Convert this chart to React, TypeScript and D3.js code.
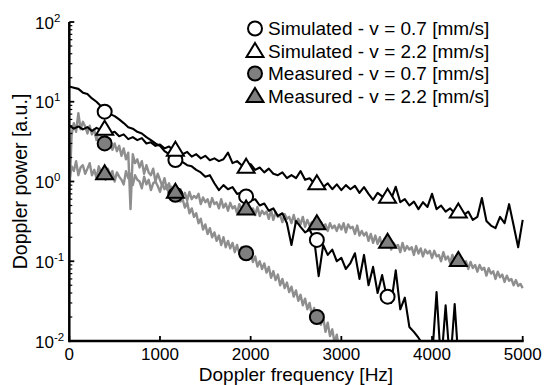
import React from "react";
import * as d3 from "d3";

// ---- data ----
const SIM_STEP = 50; // Hz between simulated samples
const MEAS_STEP = 25; // Hz between measured samples

const simV07 = [
  15.5, 15.0, 14.5, 13.0, 12.5, 11.0, 10.0, 8.8, 7.4, 7.0,
  6.6, 6.0, 5.4, 4.8, 4.6, 4.2, 4.0, 3.6, 3.3, 3.0,
  2.8, 2.4, 2.2, 1.95, 1.8, 1.75, 1.6, 1.55, 1.4, 1.3,
  1.15, 1.2, 0.95, 0.78, 0.9, 0.8, 0.85, 0.7, 0.72, 0.62,
  0.58, 0.6, 0.5, 0.53, 0.43, 0.46, 0.37, 0.4, 0.3, 0.16,
  0.32, 0.27, 0.23, 0.25, 0.19, 0.065, 0.16, 0.12, 0.14, 0.1,
  0.11, 0.08, 0.095, 0.126, 0.06, 0.12, 0.05, 0.085, 0.04, 0.067,
  0.036, 0.03, 0.077, 0.025, 0.035, 0.015, 0.013, 0.011, 0.009, 0.007,
  0.006, 0.041, 0.005, 0.028, 0.005, 0.029, 0.004, 0.004, 0.003, 0.003,
  0.003, 0.003, 0.003, 0.003, 0.003, 0.003, 0.003, 0.003, 0.003, 0.003,
  0.003,
];

const simV22 = [
  5.0, 4.6, 4.9, 4.5, 4.8, 4.3, 4.7, 4.4, 4.5, 4.0,
  4.2, 3.7, 3.9, 3.4, 3.6, 3.3, 3.5, 3.0, 3.1, 2.8,
  2.9, 2.6, 2.75, 2.45, 2.5, 2.2, 2.35, 2.05, 2.2, 1.95,
  2.1, 1.85, 1.95, 1.8, 1.9, 2.3, 1.7, 1.8, 1.6, 1.55,
  1.65, 1.4, 1.5, 1.3, 1.45, 1.25, 1.2, 1.3, 1.1, 1.2,
  1.1, 1.35, 1.05, 1.1, 0.95, 0.98, 0.85, 0.95, 0.8, 0.92,
  0.78, 0.9, 0.8, 0.88, 0.72, 0.85, 0.7, 0.59, 0.72, 0.65,
  0.66, 0.6, 0.86, 0.55, 0.6, 0.5, 0.56, 0.45, 0.55, 0.48,
  0.7, 0.45, 0.5, 0.42, 0.46, 0.4, 0.43, 0.38, 0.42, 0.33,
  0.36, 0.62, 0.32, 0.28, 0.26, 0.36, 0.3, 0.52, 0.28, 0.15,
  0.33,
];

const measV07 = [
  0.6, 3.8, 5.4, 4.2, 7.2, 4.5, 5.6, 4.9, 4.0, 5.0,
  3.9, 4.5, 3.3, 4.2, 3.6, 3.2, 3.9, 2.8, 3.4, 2.5,
  3.0, 2.4, 2.8, 2.1, 2.6, 1.9, 2.3, 0.45, 2.2, 1.7,
  1.9, 1.5, 1.8, 1.25, 1.6, 1.3, 1.2, 1.45, 1.0, 1.25,
  1.05, 0.88, 1.1, 0.8, 0.95, 0.72, 0.8, 0.6, 0.72, 0.56,
  0.6, 0.47, 0.55, 0.4, 0.46, 0.36, 0.4, 0.3, 0.34, 0.25,
  0.29, 0.22, 0.26, 0.2, 0.23, 0.18, 0.21, 0.16, 0.2, 0.15,
  0.18, 0.145, 0.17, 0.13, 0.16, 0.125, 0.15, 0.12, 0.135, 0.105,
  0.125, 0.098, 0.115, 0.086, 0.1, 0.08, 0.094, 0.072, 0.085, 0.062,
  0.075, 0.058, 0.068, 0.05, 0.06, 0.046, 0.054, 0.041, 0.048, 0.036,
  0.043, 0.032, 0.038, 0.028, 0.034, 0.025, 0.03, 0.021, 0.026, 0.018,
  0.022, 0.016, 0.02, 0.013, 0.017, 0.0115, 0.014, 0.0095, 0.012, 0.008,
  0.0095, 0.007, 0.0075,
];

const measV22 = [
  1.0, 1.55, 1.35, 1.8, 1.2, 1.5, 1.6, 1.25, 1.45, 1.7,
  1.2, 1.4, 1.1, 1.55, 1.3, 1.25, 1.05, 1.45, 1.2, 1.35,
  1.0, 1.3, 1.15, 1.05, 0.92, 1.35, 1.1, 1.25, 0.9, 1.2,
  1.05, 1.0, 0.82, 1.15, 0.92, 1.05, 0.78, 0.95, 1.0, 0.88,
  0.74, 0.95, 0.8, 0.9, 0.68, 0.86, 0.76, 0.7, 0.64, 0.8,
  0.66, 0.72, 0.58, 0.74, 0.6, 0.66, 0.62, 0.7, 0.52, 0.63,
  0.55, 0.6, 0.48, 0.62, 0.52, 0.55, 0.46, 0.6, 0.47, 0.53,
  0.43, 0.54, 0.46, 0.49, 0.4, 0.52, 0.44, 0.47, 0.43, 0.52,
  0.4, 0.46, 0.38, 0.48, 0.37, 0.43, 0.39, 0.42, 0.34, 0.44,
  0.33, 0.41, 0.36, 0.38, 0.31, 0.39, 0.34, 0.36, 0.3, 0.38,
  0.3, 0.34, 0.29, 0.36, 0.27, 0.33, 0.28, 0.31, 0.29, 0.32,
  0.25, 0.31, 0.27, 0.29, 0.24, 0.3, 0.26, 0.28, 0.24, 0.29,
  0.25, 0.3, 0.23, 0.29, 0.26, 0.27, 0.22, 0.28, 0.21, 0.24,
  0.21, 0.23, 0.18, 0.22, 0.17, 0.21, 0.165, 0.2, 0.15, 0.19,
  0.16, 0.18, 0.14, 0.17, 0.155, 0.16, 0.13, 0.17, 0.135, 0.155,
  0.14, 0.15, 0.12, 0.155, 0.125, 0.145, 0.115, 0.14, 0.125, 0.135,
  0.11, 0.135, 0.115, 0.12, 0.1, 0.13, 0.105, 0.115, 0.095, 0.12,
  0.1, 0.11, 0.088, 0.105, 0.09, 0.1, 0.08, 0.098, 0.082, 0.09,
  0.074, 0.09, 0.078, 0.083, 0.066, 0.082, 0.07, 0.075, 0.06, 0.074,
  0.063, 0.068, 0.055, 0.066, 0.057, 0.06, 0.05, 0.058, 0.049, 0.052,
  0.046,
];

const markerFreqs = [390, 1170, 1950, 2730, 3510, 4290];
const simV07Markers = [7.5, 1.86, 0.65, 0.185, 0.036, null];
const simV22Markers = [4.6, 2.5, 1.53, 0.95, 0.645, 0.42];
const measV07Markers = [3.0, 0.68, 0.126, 0.02, null, null];
const measV22Markers = [1.27, 0.745, 0.46, 0.3, 0.176, 0.104];

const legendLabels = [
  "Simulated - v = 0.7 [mm/s]",
  "Simulated - v = 2.2 [mm/s]",
  "Measured - v = 0.7 [mm/s]",
  "Measured - v = 2.2 [mm/s]",
];

const xTicks = [0, 1000, 2000, 3000, 4000, 5000];
const yTickExponents = [-2, -1, 0, 1, 2];
const xTitle = "Doppler frequency [Hz]";
const yTitle = "Doppler power [a.u.]";

// ---- layout / style ----
const W = 544;
const H = 385;
const FONT = "'Liberation Sans', Arial, Helvetica, sans-serif";
const GRAY_LINE = "#8e8e8e";
const GRAY_FILL = "#7f7f7f";

const TRI = "M0,-8L8.5,6L-8.5,6Z";

type Series = {
  values: number[];
  step: number;
  color: string;
  width: number;
  markers: (number | null)[];
  shape: "circle" | "triangle";
  fill: string;
};

export default function App() {
  const x = d3.scaleLinear().domain([0, 5000]).range([69.3, 522.7]);
  const y = d3.scaleLog().domain([0.01, 100]).range([341, 22]);

  const series: Series[] = [
    { values: simV07, step: SIM_STEP, color: "#000", width: 2.1, markers: simV07Markers, shape: "circle", fill: "#fff" },
    { values: simV22, step: SIM_STEP, color: "#000", width: 2.1, markers: simV22Markers, shape: "triangle", fill: "#fff" },
    { values: measV07, step: MEAS_STEP, color: GRAY_LINE, width: 2.4, markers: measV07Markers, shape: "circle", fill: GRAY_FILL },
    { values: measV22, step: MEAS_STEP, color: GRAY_LINE, width: 2.4, markers: measV22Markers, shape: "triangle", fill: GRAY_FILL },
  ];

  const lineFor = (s: Series) =>
    d3
      .line<number>()
      .x((_, i) => x(i * s.step))
      .y((v) => y(v))(s.values) || "";

  const drawOrder = [2, 3, 0, 1];

  const marker = (shape: string, fill: string, cx: number, cy: number, key: string) =>
    shape === "circle" ? (
      <circle key={key} cx={cx} cy={cy} r={7} fill={fill} stroke="#000" strokeWidth={2} />
    ) : (
      <path key={key} d={TRI} transform={`translate(${cx},${cy})`} fill={fill} stroke="#000" strokeWidth={2} strokeLinejoin="miter" />
    );

  const minorTicks: number[] = [];
  for (let e = -2; e < 2; e++) for (let k = 2; k <= 9; k++) minorTicks.push(k * Math.pow(10, e));

  const [x0, x1] = x.range();
  const [yb, yt] = y.range();

  return (
    <div style={{ position: "absolute", left: 0, top: 0 }}>
      <svg width={W} height={H} style={{ display: "block", background: "#fff" }} fontFamily={FONT}>
        <defs>
          <clipPath id="plotClip">
            <rect x={x0} y={yt - 2} width={x1 - x0 + 2} height={yb - yt + 2} />
          </clipPath>
        </defs>

        <g clipPath="url(#plotClip)">
          {drawOrder.map((si) => (
            <path key={"l" + si} d={lineFor(series[si])} fill="none" stroke={series[si].color} strokeWidth={series[si].width} strokeLinejoin="round" />
          ))}
        </g>

        {series.map((s, si) =>
          s.markers.map((v, mi) =>
            v == null ? null : marker(s.shape, s.fill, x(markerFreqs[mi]), y(v), `m${si}-${mi}`)
          )
        )}

        {/* axes */}
        <line x1={x0} x2={x1 + 1} y1={yb} y2={yb} stroke="#000" strokeWidth={2.5} />
        <line x1={x0} x2={x0} y1={yt} y2={yb + 1.2} stroke="#000" strokeWidth={2.5} />
        {xTicks.map((t) => (
          <g key={"xt" + t}>
            <line x1={x(t)} x2={x(t)} y1={yb} y2={yb - 5} stroke="#000" strokeWidth={1.8} />
            <text x={x(t)} y={360} textAnchor="middle" fontSize={17} fill="#000">
              {t}
            </text>
          </g>
        ))}
        {minorTicks.map((t, i) => (
          <line key={"ym" + i} x1={x0} x2={x0 + 3} y1={y(t)} y2={y(t)} stroke="#000" strokeWidth={1.2} />
        ))}
        {yTickExponents.map((e) => {
          const ty = y(Math.pow(10, e));
          return (
            <g key={"yt" + e}>
              <line x1={x0} x2={x0 + 5} y1={ty} y2={ty} stroke="#000" strokeWidth={1.8} />
              <text x={35} y={ty + 6.5} fontSize={17} fill="#000">
                10
                <tspan fontSize={11.5} dy={-7}>
                  {e}
                </tspan>
              </text>
            </g>
          );
        })}

        {/* axis titles */}
        <text x={(x0 + x1) / 2} y={380.5} textAnchor="middle" fontSize={19} fill="#000">
          {xTitle}
        </text>
        <text transform={`translate(27,${(yt + yb) / 2}) rotate(-90)`} textAnchor="middle" fontSize={19.5} fill="#000">
          {yTitle}
        </text>

        {/* legend */}
        {legendLabels.map((lab, i) => {
          const ly = 28.5 + i * 22.5;
          const s = series[i];
          return (
            <g key={"lg" + i}>
              {marker(s.shape, s.fill, 255, ly, "lgm" + i)}
              <text x={268} y={ly + 6.5} fontSize={19} fill="#000">
                {lab}
              </text>
            </g>
          );
        })}
      </svg>
    </div>
  );
}
